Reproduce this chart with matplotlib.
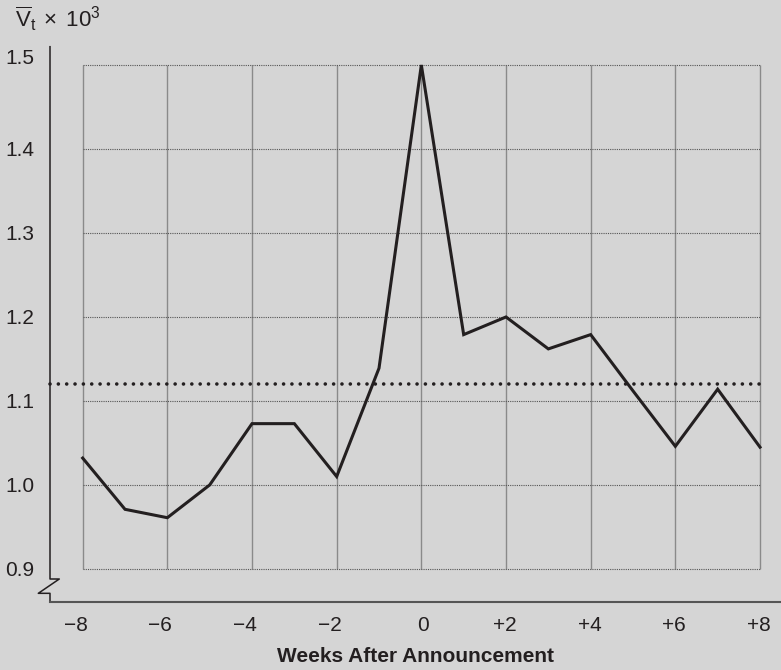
import numpy as np
import matplotlib
matplotlib.use('Agg')
import matplotlib.pyplot as plt
from matplotlib.transforms import ScaledTranslation

plt.rcParams['font.family'] = ['Liberation Sans', 'DejaVu Sans']
plt.rcParams['mathtext.fontset'] = 'custom'
plt.rcParams['mathtext.rm'] = 'Liberation Sans'
plt.rcParams['mathtext.it'] = 'Liberation Sans'

# average weekly volume around the announcement
weeks = [-8, -7, -6, -5, -4, -3, -2, -1, 0, 1, 2, 3, 4, 5, 6, 7, 8]
volume = [1.032, 0.971, 0.961, 1.000, 1.073, 1.073, 1.010, 1.139, 1.500,
          1.179, 1.200, 1.162, 1.179, 1.112, 1.046, 1.114, 1.045]
mean_level = 1.120

x_ticks = [-8, -6, -4, -2, 0, 2, 4, 6, 8]
x_labels = ['\u22128', '\u22126', '\u22124', '\u22122', '0', '+2', '+4', '+6', '+8']
y_ticks = [0.9, 1.0, 1.1, 1.2, 1.3, 1.4, 1.5]
y_labels = ['0.9', '1.0', '1.1', '1.2', '1.3', '1.4', '1.5']

bg = '#d5d5d5'
fig = plt.figure(figsize=(7.81, 6.70), dpi=100, facecolor=bg)
ax = fig.add_axes([50 / 781, 1 - 601.7 / 670, 731 / 781, 555 / 670])
ax.set_facecolor(bg)

ax.set_xlim(-8.772, 8.496)
ax.set_ylim(0.861, 1.5218)

# grid box
ax.vlines(x_ticks, 0.9, 1.5, color='#8a8a8a', lw=1.0, zorder=1)
ax.hlines(y_ticks, -8, 8, color='#555555', lw=0.8, linestyles=(0, (1, 1)), zorder=1)

# mean level (dotted) and weekly volume
ax.plot([-8.772, 8], [mean_level, mean_level], color='#231f20', lw=2.6,
        linestyle=(0, (0.01, 2.3)), dash_capstyle='round', zorder=2, clip_on=False)
ax.plot(weeks, volume, color='#231f20', lw=2.2, solid_joinstyle='miter', zorder=3)

# axes lines with the break on the y axis
for s in ax.spines.values():
    s.set_visible(False)
ax.plot([0, 0, 0.0127, -0.016, 0, 0], [1, 0.0409, 0.0409, 0.0151, 0.0151, 0],
        transform=ax.transAxes, color='#231f20', lw=1.1, clip_on=False)
ax.plot([0, 1], [0, 0], transform=ax.transAxes, color='#555555', lw=1.5, clip_on=False)

ax.set_xticks(x_ticks)
ax.set_xticklabels(x_labels)
ax.set_yticks(y_ticks)
ax.set_yticklabels(y_labels)
ax.tick_params(axis='both', length=0, labelsize=15, colors='#231f20')
ax.tick_params(axis='x', pad=10)
ax.tick_params(axis='y', pad=11.5)

# the digit sits on the gridline, the minus sign hangs to the left
for lab in ax.get_xticklabels():
    t = lab.get_text()
    if t.startswith('\u2212'):
        dx = -7
    elif t == '0':
        dx = 2
    else:
        dx = -1
    lab.set_transform(lab.get_transform() + ScaledTranslation(dx / 100, 0, fig.dpi_scale_trans))
top_lab = ax.get_yticklabels()[-1]
top_lab.set_transform(top_lab.get_transform() + ScaledTranslation(0, 9 / 100, fig.dpi_scale_trans))

ax.set_xlabel('Weeks After Announcement', fontsize=15, fontweight='bold',
              color='#231f20', labelpad=9)
fig.text(15 / 781, 1 - 27.5 / 670,
         r'$\overline{\mathrm{V}}_{\mathrm{t}}\;\times\;10^{3}$',
         fontsize=16, color='#231f20', ha='left', va='baseline')

fig.savefig('out.png', dpi=100, facecolor=bg)
